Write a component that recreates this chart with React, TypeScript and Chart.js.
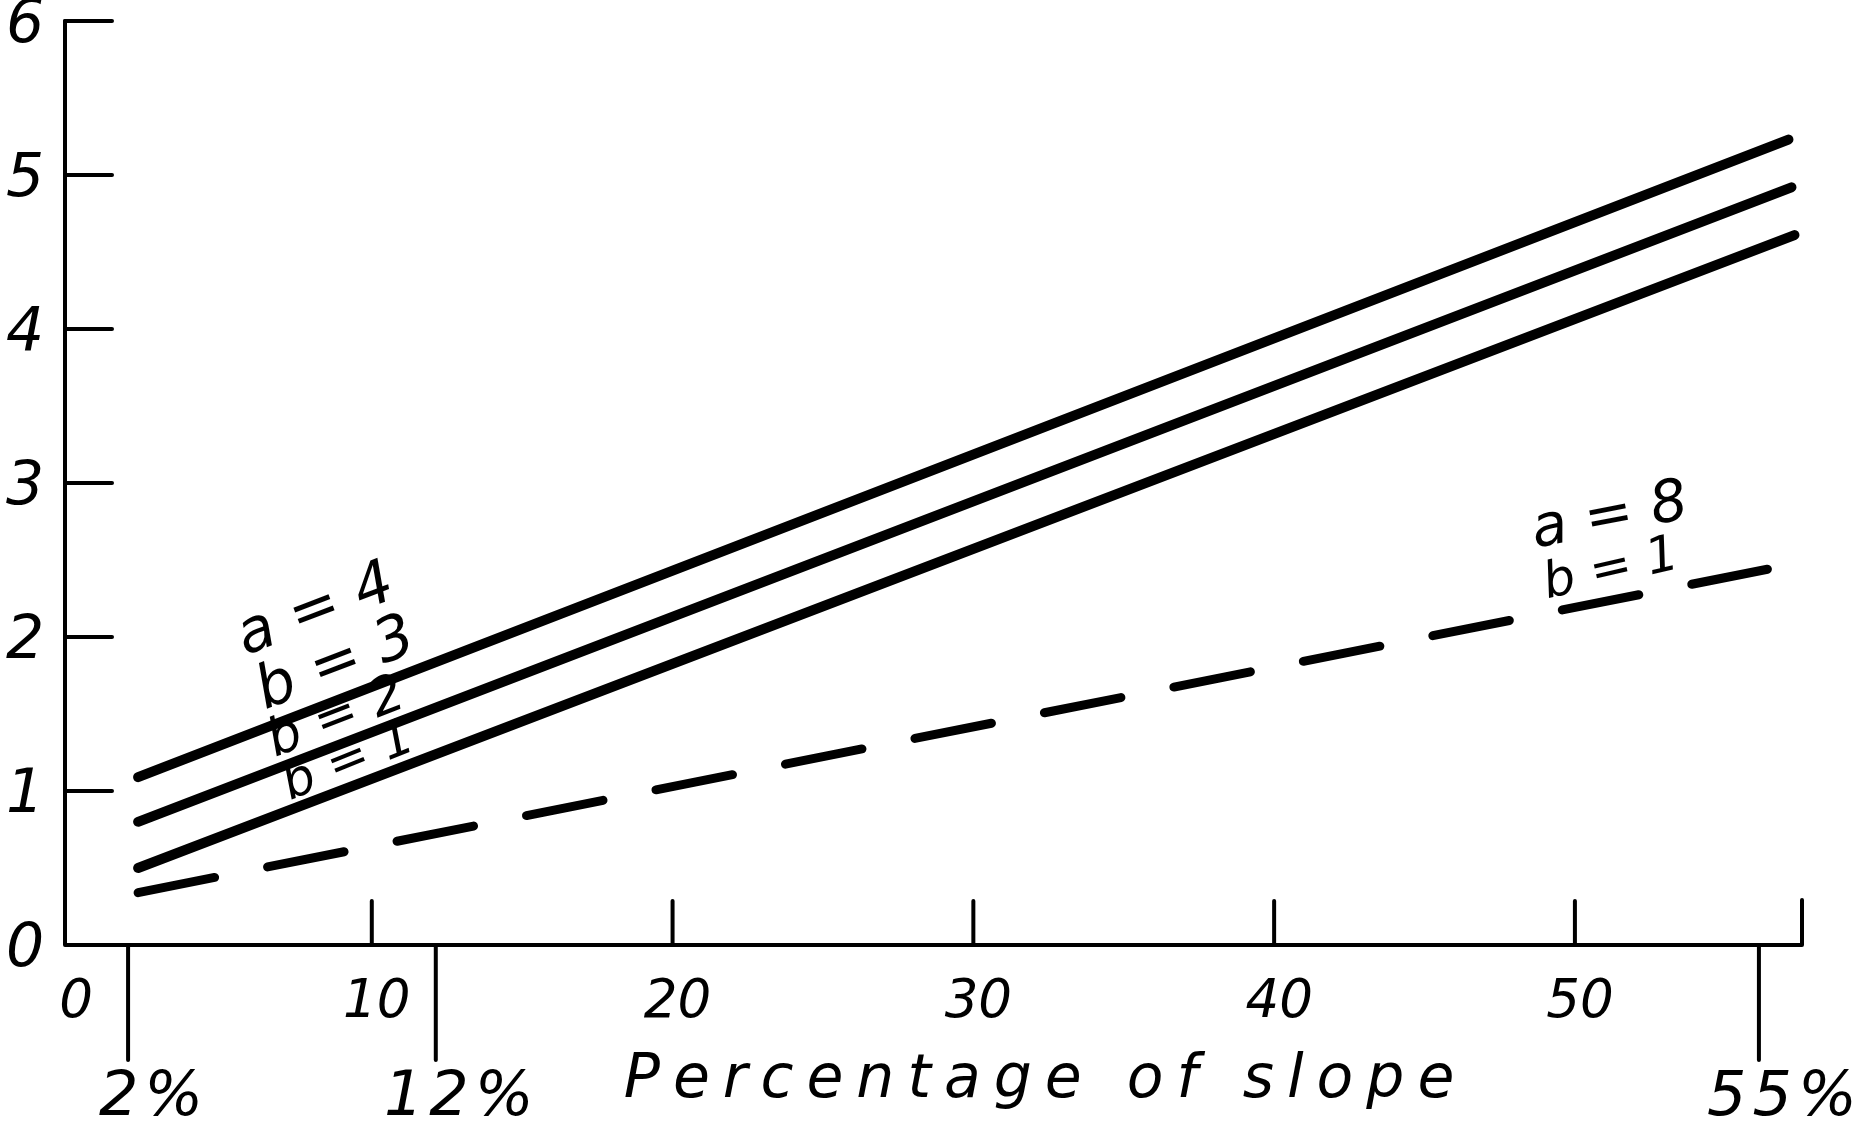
import React, { useEffect, useRef } from "react";
import { Chart, registerables } from "chart.js";

Chart.register(...registerables);

// ---- data ----
const seriesLabels = ["a = 4, b = 3", "a = 4, b = 2", "a = 4, b = 1", "a = 8, b = 1"];
const seriesStartX = [2.23, 2.23, 2.23, 2.23];
const seriesEndX = [57.1, 57.2, 57.3, 56.4];
const a4b3Values = [1.09, 5.23];
const a4b2Values = [0.8, 4.92];
const a4b1Values = [0.5, 4.61];
const a8b1Values = [0.34, 2.44];

const yTickValues = [0, 1, 2, 3, 4, 5, 6];
const yTickLabels = ["0", "1", "2", "3", "4", "5", "6"];
const xTickValues = [0, 10, 20, 30, 40, 50];
const xTickLabels = ["0", "10", "20", "30", "40", "50"];
const pctTickValues = [2, 12, 55];
const pctTickLabels = ["2%", "12%", "55%"];
const xTitle = "Percentage of slope";

const noteTexts = ["a = 4", "b = 3", "b = 2", "b = 1", "a = 8", "b = 1"];
const noteX = [5.79, 6.45, 6.78, 7.28, 48.68, 49.08];
const noteY = [1.88, 1.53, 1.22, 0.94, 2.58, 2.25];

// ---- styling ----
const FONT = "'DejaVu Sans', 'Liberation Sans', sans-serif";
const INK = "#000";
const noteFontSize = [60, 60, 52, 50, 58, 50];
const noteAngle = [-21, -21, -21, -22, -11, -13];

const handPlugin = {
  id: "handAxes",
  afterDraw(chart: any) {
    const ctx: CanvasRenderingContext2D = chart.ctx;
    const xs = chart.scales.x;
    const x2 = chart.scales.x2;
    const ys = chart.scales.y;
    const { left, right, bottom } = chart.chartArea;
    const seg = (ax: number, ay: number, bx: number, by: number) => {
      ctx.beginPath();
      ctx.moveTo(ax, ay);
      ctx.lineTo(bx, by);
      ctx.stroke();
    };
    ctx.save();
    ctx.strokeStyle = INK;
    ctx.fillStyle = INK;
    ctx.lineWidth = 4;
    ctx.lineCap = "round";
    ctx.lineJoin = "round";

    // axes frame
    ctx.beginPath();
    ctx.moveTo(left, ys.getPixelForValue(6));
    ctx.lineTo(left, bottom);
    ctx.lineTo(right, bottom);
    ctx.lineTo(right, bottom - 45);
    ctx.stroke();

    // y ticks (inside)
    yTickValues.forEach((v) => {
      if (v === 0) return;
      const py = ys.getPixelForValue(v);
      seg(left, py, left + 47, py);
    });
    // x ticks (inside, upward)
    xTickValues.forEach((v) => {
      if (v === 0) return;
      const px = xs.getPixelForValue(v);
      seg(px, bottom, px, bottom - 44);
    });
    // percentage ticks (outside, downward)
    pctTickValues.forEach((v) => {
      const px = x2.getPixelForValue(v);
      seg(px, bottom, px, bottom + 115);
    });

    // y labels
    ctx.textAlign = "center";
    ctx.textBaseline = "middle";
    ctx.font = `italic 60px ${FONT}`;
    yTickValues.forEach((v, i) => {
      ctx.fillText(yTickLabels[i], left - 40, ys.getPixelForValue(v) + 5);
    });
    // x labels
    ctx.font = `italic 53px ${FONT}`;
    xTickValues.forEach((v, i) => {
      ctx.fillText(xTickLabels[i], xs.getPixelForValue(v) + 5, bottom + 58);
    });
    // percentage labels
    ctx.font = `italic 62px ${FONT}`;
    (ctx as any).letterSpacing = "6px";
    pctTickValues.forEach((v, i) => {
      ctx.fillText(pctTickLabels[i], x2.getPixelForValue(v) + 26, bottom + 154);
    });
    // axis title
    ctx.font = `italic 60px ${FONT}`;
    (ctx as any).letterSpacing = "13px";
    ctx.textBaseline = "alphabetic";
    ctx.fillText(xTitle, (left + right) / 2 + 112, bottom + 152);
    (ctx as any).letterSpacing = "0px";

    // annotations
    ctx.textAlign = "left";
    noteTexts.forEach((t, i) => {
      const px = xs.getPixelForValue(noteX[i]);
      const py = ys.getPixelForValue(noteY[i]);
      ctx.save();
      ctx.translate(px, py);
      ctx.rotate((noteAngle[i] * Math.PI) / 180);
      ctx.font = `italic ${noteFontSize[i]}px ${FONT}`;
      ctx.fillText(t, 0, 0);
      ctx.restore();
    });
    ctx.restore();
  },
};

function pts(xa: number, xb: number, vals: number[]) {
  return [
    { x: xa, y: vals[0] },
    { x: xb, y: vals[1] },
  ];
}

export default function App() {
  const ref = useRef<HTMLCanvasElement | null>(null);
  useEffect(() => {
    if (!ref.current) return;
    const solid = {
      borderColor: INK,
      borderWidth: 10,
      borderCapStyle: "round" as const,
      pointRadius: 0,
      fill: false,
      tension: 0,
      clip: false as any,
    };
    const chart = new Chart(ref.current, {
      type: "line",
      data: {
        datasets: [
          { ...solid, label: seriesLabels[0], data: pts(seriesStartX[0], seriesEndX[0], a4b3Values) },
          { ...solid, label: seriesLabels[1], data: pts(seriesStartX[1], seriesEndX[1], a4b2Values) },
          { ...solid, label: seriesLabels[2], data: pts(seriesStartX[2], seriesEndX[2], a4b1Values) },
          {
            ...solid,
            label: seriesLabels[3],
            data: pts(seriesStartX[3], seriesEndX[3], a8b1Values),
            borderWidth: 9,
            borderDash: [78, 54],
          },
        ],
      },
      options: {
        responsive: false,
        animation: false,
        layout: { padding: { left: 65, right: 53, top: 21, bottom: 191 } },
        scales: {
          x: { type: "linear", min: -0.2, max: 57.55, display: false },
          x2: { type: "linear", position: "bottom", min: -0.05, max: 56.4, display: false },
          y: { type: "linear", min: 0, max: 6, display: false },
        },
        plugins: { legend: { display: false }, tooltip: { enabled: false } },
      },
      plugins: [handPlugin],
    });
    return () => chart.destroy();
  }, []);
  return (
    <div style={{ position: "absolute", left: 0, top: 0, width: 1855, height: 1136, background: "#fff" }}>
      <canvas ref={ref} width={1855} height={1136} style={{ display: "block" }} />
    </div>
  );
}
